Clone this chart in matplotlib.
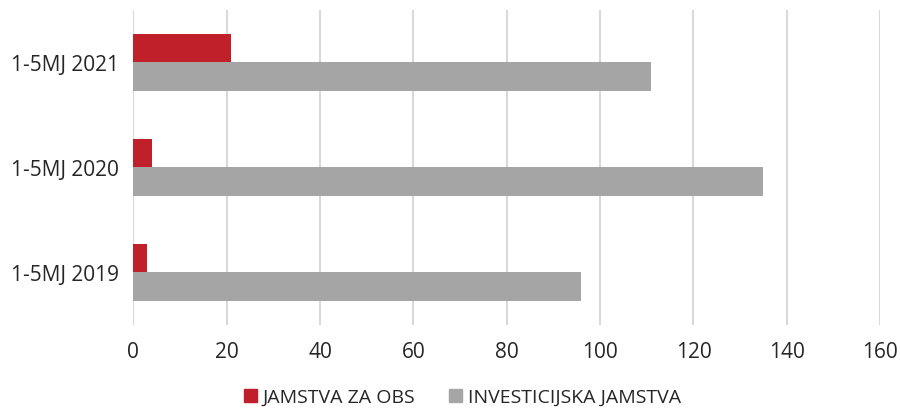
import matplotlib.pyplot as plt
import matplotlib.patches as mpatches
import numpy as np

categories = ["1-5MJ 2019", "1-5MJ 2020", "1-5MJ 2021"]
jamstva_obs = [3, 4, 21]
investicijska = [96, 135, 111]
series_names = ["JAMSTVA ZA OBS", "INVESTICIJSKA JAMSTVA"]

RED = "#C0202A"
GREY = "#A5A5A5"
GRID = "#D9D9D9"
TEXT = "#262626"

plt.rcParams['font.family'] = ['Open Sans', 'DejaVu Sans']

fig = plt.figure(figsize=(9, 4.1), dpi=100)
ax = fig.add_axes([0.148, 0.206, 0.830, 0.768])

y = np.arange(len(categories))
h = 0.272
ax.barh(y + h / 2, jamstva_obs, height=h, color=RED, zorder=3)
ax.barh(y - h / 2, investicijska, height=h, color=GREY, zorder=3)

ax.set_xlim(0, 160)
ax.set_ylim(-0.5, 2.5)
ax.set_xticks(np.arange(0, 161, 20))
ax.set_yticks(y)
ax.set_yticklabels(categories)
ax.xaxis.grid(True, color=GRID, linewidth=1.5, zorder=0)
ax.tick_params(axis='both', length=0, labelsize=15, colors=TEXT)
ax.tick_params(axis='x', pad=12)
ax.tick_params(axis='y', pad=10)
for s in ax.spines.values():
    s.set_visible(False)

handles = [mpatches.Patch(color=RED, label=series_names[0]),
           mpatches.Patch(color=GREY, label=series_names[1])]
fig.legend(handles=handles, loc='center', bbox_to_anchor=(0.514, 0.029), ncol=2,
           frameon=False, fontsize=14, handlelength=0.65, handleheight=0.65,
           handletextpad=0.3, columnspacing=1.75, labelcolor=TEXT)

fig.savefig("out.png", dpi=100)
